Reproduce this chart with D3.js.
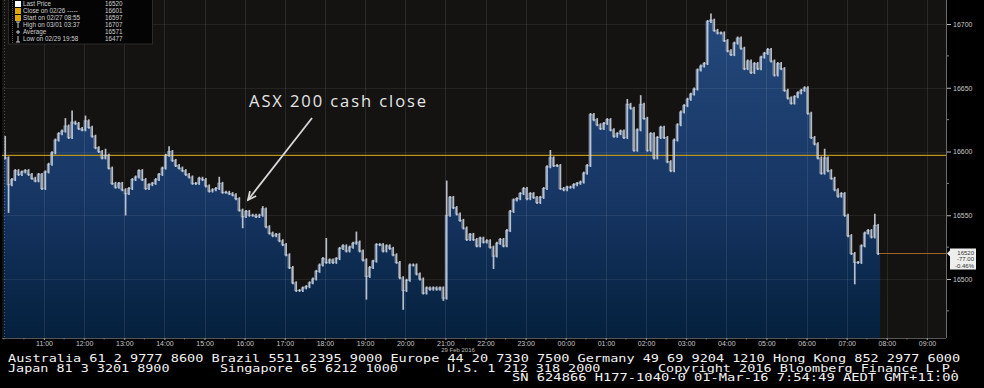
<!DOCTYPE html>
<html>
<head>
<meta charset="utf-8">
<script src="https://cdnjs.cloudflare.com/ajax/libs/d3/7.8.5/d3.min.js"></script>
<style>
  html, body { margin: 0; padding: 0; background: #000; }
  svg { display: block; }
</style>
</head>
<body>
<svg id="chart" width="984" height="388"></svg>
<script>
// 5 minute closes, 29 Feb 2016 10:00 -> 01 Mar 2016 07:45
var startTime = '2016-02-29T10:00'
  , barMinutes = 5

var closes = [
  16595, 16574, 16578, 16585, 16582, 16584, 16585, 16582, 16579, 16577,
  16582, 16571, 16584, 16590, 16599, 16609, 16614, 16616, 16620, 16611,
  16623, 16622, 16618, 16617, 16624, 16619, 16612, 16603, 16600, 16595,
  16597, 16587, 16575, 16572, 16575, 16570, 16567, 16571, 16578, 16580,
  16585, 16578, 16571, 16574, 16575, 16578, 16582, 16587, 16597, 16600,
  16593, 16589, 16587, 16585, 16582, 16580, 16575, 16575, 16579, 16578,
  16573, 16569, 16570, 16571, 16575, 16568, 16568, 16567, 16566, 16563,
  16554, 16549, 16553, 16550, 16550, 16549, 16550, 16555, 16541, 16536,
  16534, 16535, 16530, 16527, 16519, 16509, 16497, 16491, 16491, 16493,
  16494, 16497, 16500, 16506, 16511, 16516, 16513, 16515, 16513, 16516,
  16524, 16526, 16522, 16525, 16528, 16529, 16522, 16515, 16502, 16509,
  16514, 16527, 16527, 16522, 16526, 16524, 16519, 16513, 16501, 16491,
  16499, 16511, 16511, 16504, 16500, 16489, 16493, 16492, 16493, 16492,
  16493, 16485, 16550, 16564, 16556, 16551, 16546, 16540, 16531, 16535,
  16531, 16526, 16532, 16529, 16530, 16525, 16518, 16528, 16531, 16526,
  16538, 16553, 16562, 16563, 16567, 16571, 16563, 16567, 16564, 16560,
  16564, 16571, 16588, 16595, 16589, 16589, 16571, 16570, 16572, 16572,
  16574, 16575, 16576, 16583, 16589, 16629, 16625, 16621, 16618, 16622,
  16625, 16617, 16612, 16614, 16616, 16611, 16637, 16634, 16601, 16617,
  16637, 16626, 16601, 16614, 16595, 16611, 16619, 16611, 16592, 16585,
  16609, 16621, 16631, 16636, 16641, 16645, 16649, 16664, 16667, 16669,
  16702, 16703, 16695, 16693, 16693, 16687, 16679, 16676, 16685, 16689,
  16681, 16665, 16671, 16662, 16669, 16665, 16674, 16677, 16680, 16671,
  16660, 16669, 16665, 16648, 16642, 16638, 16643, 16646, 16648, 16650,
  16630, 16611, 16606, 16595, 16583, 16595, 16585, 16579, 16570, 16565,
  16567, 16550, 16534, 16520, 16513, 16513, 16526, 16536, 16538, 16533,
  16542, 16520
]

var highs = [
  ['2016-02-29T10:00', 16611], ['2016-02-29T11:30', 16625], ['2016-02-29T11:40', 16631],
  ['2016-02-29T12:00', 16627], ['2016-02-29T12:30', 16601], ['2016-02-29T14:05', 16603],
  ['2016-02-29T15:20', 16579], ['2016-02-29T16:25', 16556], ['2016-02-29T18:00', 16531],
  ['2016-02-29T18:45', 16536], ['2016-02-29T21:00', 16576], ['2016-02-29T23:35', 16600],
  ['2016-03-01T01:30', 16640], ['2016-03-01T01:50', 16643], ['2016-03-01T03:35', 16707],
  ['2016-03-01T06:25', 16601], ['2016-03-01T07:40', 16550]
]
var lows = [
  ['2016-02-29T10:05', 16553], ['2016-02-29T13:00', 16551], ['2016-02-29T15:55', 16541],
  ['2016-02-29T19:00', 16485], ['2016-02-29T19:55', 16477], ['2016-02-29T20:55', 16484],
  ['2016-02-29T22:10', 16509], ['2016-03-01T07:10', 16497]
]

var priceTicks = [16500, 16550, 16600, 16650, 16700]
  , minorPriceTicks = [16475, 16525, 16575, 16625, 16675]
  , startLevel = 16597
  , lastPrice = 16520
  , lastBox = ['16520', '-77.00', '-0.46%']
  , dateLabel = '29 Feb 2016'

var legendLabels = ['Last Price', 'Close on 02/26 -----', 'Start on 02/27 08:55',
      'High on 03/01 03:37', 'Average', 'Low on 02/29 19:58']
  , legendValues = ['16520', '16601', '16597', '16707', '16571', '16477']

var note = {text: 'ASX 200 cash close', time: '2016-02-29T16:05', value: 16562}

var footer1 = 'Australia 61 2 9777 8600 Brazil 5511 2395 9000 Europe 44 20 7330 7500 Germany 49 69 9204 1210 Hong Kong 852 2977 6000'
  , footer2 = ['Japan 81 3 3201 8900', 'Singapore 65 6212 1000', 'U.S. 1 212 318 2000', 'Copyright 2016 Bloomberg Finance L.P.']
  , footer3 = 'SN 624866 H177-1040-0 01-Mar-16  7:54:49 AEDT GMT+11:00'

var svg = d3.select('#chart')
  , plot = {left: 2, right: 946, top: 0, bottom: 338}
  , parse = d3.timeParse('%Y-%m-%dT%H:%M')
  , t0 = parse(startTime)
  , tickFont = 'Liberation Sans, Arial, sans-serif'

var bars = closes.map(function(v, i) {
  return {t: d3.timeMinute.offset(t0, i * barMinutes), close: v, prev: i ? closes[i - 1] : v}
})
highs.forEach(function(h) {
  var b = _find(parse(h[0])); if (b) b.high = h[1]
})
lows.forEach(function(l) {
  var b = _find(parse(l[0])); if (b) b.low = l[1]
})
function _find(t) {
  return bars.find(function(b) { return +b.t === +t })
}

var x = d3.scaleTime()
  .domain([new Date(2016, 1, 29, 9, 57, 12), new Date(2016, 2, 1, 9, 28, 24)])
  .range([plot.left, plot.right])
var y = d3.scaleLinear().domain([16500, 16700]).range([279, 24])

// plot background
svg.append('rect')
  .attr('x', plot.left).attr('y', plot.top)
  .attr('width', plot.right - plot.left).attr('height', plot.bottom - plot.top)
  .attr('fill', '#141312')

var defs = svg.append('defs')
var grad = defs.append('linearGradient').attr('id', 'blue')
  .attr('gradientUnits', 'userSpaceOnUse')
  .attr('x1', 0).attr('x2', 0).attr('y1', y(16700)).attr('y2', plot.bottom)
grad.append('stop').attr('offset', 0).attr('stop-color', '#23487a')
grad.append('stop').attr('offset', 0.55).attr('stop-color', '#173664')
grad.append('stop').attr('offset', 1).attr('stop-color', '#04203d')

var last = bars[bars.length - 1]
  , areaPts = bars.concat([{t: d3.timeMinute.offset(last.t, barMinutes), close: last.close}])

svg.append('path').datum(areaPts)
  .attr('fill', 'url(#blue)')
  .attr('d', d3.area()
    .curve(d3.curveStepAfter)
    .x(function(d) { return x(d.t) })
    .y0(plot.bottom)
    .y1(function(d) { return y(d.close) }))

// grid
var hours = d3.timeHour.range(new Date(2016, 1, 29, 10), new Date(2016, 2, 1, 9, 30))
svg.append('g').selectAll('line').data(hours)
  .enter().append('line')
  .attr('x1', function(d) { return Math.round(x(d)) + 0.5 })
  .attr('x2', function(d) { return Math.round(x(d)) + 0.5 })
  .attr('y1', plot.top).attr('y2', plot.bottom)
  .attr('stroke', '#ffffff').attr('stroke-opacity', function(d, i) { return i ? 0.09 : 0.25 })
  .attr('stroke-dasharray', function(d, i) { return i ? null : '1,2' })
svg.append('g').selectAll('line').data(priceTicks)
  .enter().append('line')
  .attr('x1', plot.left).attr('x2', plot.right)
  .attr('y1', function(d) { return Math.round(y(d)) + 0.5 })
  .attr('y2', function(d) { return Math.round(y(d)) + 0.5 })
  .attr('stroke', '#ffffff').attr('stroke-opacity', 0.07)

// start level + last price lines
svg.append('line')
  .attr('x1', plot.left).attr('x2', plot.right)
  .attr('y1', y(startLevel)).attr('y2', y(startLevel))
  .attr('stroke', '#b8931c').attr('stroke-width', 1.2)
svg.append('line')
  .attr('x1', x(areaPts[areaPts.length - 1].t)).attr('x2', plot.right)
  .attr('y1', y(lastPrice)).attr('y2', y(lastPrice))
  .attr('stroke', '#a0622a').attr('stroke-width', 1)

// price bars
svg.append('path').datum(areaPts)
  .attr('fill', 'none').attr('stroke', '#b8c4d4').attr('stroke-opacity', 0.6).attr('stroke-width', 1.2)
  .attr('d', d3.line().curve(d3.curveStepAfter)
    .x(function(d) { return x(d.t) })
    .y(function(d) { return y(d.close) }))
svg.append('g').selectAll('line').data(bars)
  .enter().append('line')
  .attr('x1', function(d) { return x(d3.timeMinute.offset(d.t, barMinutes / 2)) })
  .attr('x2', function(d) { return x(d3.timeMinute.offset(d.t, barMinutes / 2)) })
  .attr('y1', function(d) { return y(Math.max(d.close, d.prev, d.high || 0)) - 1.5 })
  .attr('y2', function(d) { return y(Math.min(d.close, d.prev, d.low || 1e9)) + 1.5 })
  .attr('stroke', '#d4dbe6').attr('stroke-opacity', 0.85).attr('stroke-width', 1.7)

// right axis
svg.append('line')
  .attr('x1', plot.right + 0.5).attr('x2', plot.right + 0.5)
  .attr('y1', plot.top).attr('y2', plot.bottom)
  .attr('stroke', '#6a6a6a')
var yAxis = svg.append('g')
  .attr('transform', 'translate(' + (plot.right + 1) + ',0)')
  .call(d3.axisRight(y).tickValues(priceTicks).tickSize(4).tickPadding(2).tickFormat(d3.format('d')))
yAxis.select('.domain').remove()
yAxis.selectAll('line').attr('stroke', '#bbbbbb')
yAxis.selectAll('text').attr('fill', '#c8c8c8').attr('font-size', 7).attr('font-family', tickFont)
svg.append('g').selectAll('line').data(minorPriceTicks)
  .enter().append('line')
  .attr('x1', plot.right + 1).attr('x2', plot.right + 3)
  .attr('y1', function(d) { return y(d) }).attr('y2', function(d) { return y(d) })
  .attr('stroke', '#888')

// last price box
var by = y(lastPrice)
svg.append('path')
  .attr('d', 'M' + (plot.right + 1) + ',' + by + 'L' + (plot.right + 4) + ',' + (by - 3) + 'L' + (plot.right + 4) + ',' + (by + 3) + 'Z')
  .attr('fill', '#eeeeee')
svg.append('rect')
  .attr('x', plot.right + 4).attr('y', by - 5)
  .attr('width', 26).attr('height', 21)
  .attr('fill', '#eeeeee')
svg.append('g').selectAll('text').data(lastBox)
  .enter().append('text')
  .attr('x', plot.right + 28).attr('y', function(d, i) { return by + 1 + i * 6.7 })
  .attr('text-anchor', 'end')
  .attr('font-size', 6).attr('font-family', tickFont).attr('fill', '#333')
  .text(function(d) { return d })

// bottom axis
svg.append('line')
  .attr('x1', plot.left).attr('x2', plot.right)
  .attr('y1', plot.bottom + 0.5).attr('y2', plot.bottom + 0.5)
  .attr('stroke', '#555')
var xAxis = svg.append('g')
  .attr('transform', 'translate(0,' + plot.bottom + ')')
  .call(d3.axisBottom(x).tickValues(hours.slice(1)).tickSize(2).tickPadding(1).tickFormat(d3.timeFormat('%H:%M')))
xAxis.select('.domain').remove()
xAxis.selectAll('line').attr('stroke', '#999')
xAxis.selectAll('text').attr('fill', '#c8c8c8').attr('font-size', 7).attr('font-family', tickFont)
svg.append('g').selectAll('line').data(d3.timeMinute.every(30).range(new Date(2016, 1, 29, 10), new Date(2016, 2, 1, 9, 30)))
  .enter().append('line')
  .attr('x1', function(d) { return x(d) }).attr('x2', function(d) { return x(d) })
  .attr('y1', plot.bottom).attr('y2', plot.bottom + 1.5)
  .attr('stroke', '#777')
svg.append('text')
  .attr('x', 458).attr('y', 352).attr('text-anchor', 'middle')
  .attr('font-size', 6).attr('font-family', tickFont).attr('fill', '#bbb')
  .text(dateLabel)

// legend
var lg = svg.append('g')
lg.append('rect').attr('x', 8.5).attr('y', -1).attr('width', 144).attr('height', 45)
  .attr('fill', '#040404').attr('stroke', '#2a2a2a')
lg.append('line').attr('x1', 12.5).attr('x2', 12.5).attr('y1', 0).attr('y2', 44)
  .attr('stroke', '#555').attr('stroke-dasharray', '1,1')
var rowY = function(i) { return 4 + i * 7 }
lg.selectAll('text.lab').data(legendLabels)
  .enter().append('text').attr('class', 'lab')
  .attr('x', 23).attr('y', function(d, i) { return rowY(i) + 2.2 })
  .attr('font-size', 6.3).attr('font-family', tickFont).attr('fill', '#d0d0d0')
  .text(function(d) { return d })
lg.selectAll('text.val').data(legendValues)
  .enter().append('text').attr('class', 'val')
  .attr('x', 105).attr('y', function(d, i) { return rowY(i) + 2.2 })
  .attr('font-size', 6.3).attr('font-family', tickFont).attr('fill', '#d0d0d0')
  .text(function(d) { return d })
var iconColors = ['#ffffff', '#e0a400', '#e0a400']
iconColors.forEach(function(c, i) {
  lg.append('rect').attr('x', 15).attr('y', rowY(i) - 3).attr('width', 6).attr('height', 6).attr('fill', c)
})
lg.append('path').attr('d', 'M16,' + (rowY(3) - 3) + 'H20M18,' + (rowY(3) - 3) + 'V' + (rowY(3) + 3))
  .attr('stroke', '#ccc').attr('fill', 'none')
lg.append('path').attr('d', 'M16,' + rowY(4) + 'H20M18,' + (rowY(4) - 2) + 'V' + (rowY(4) + 2))
  .attr('stroke', '#ccc').attr('fill', 'none')
lg.append('path').attr('d', 'M16,' + (rowY(5) + 3) + 'H20M18,' + (rowY(5) - 3) + 'V' + (rowY(5) + 3))
  .attr('stroke', '#ccc').attr('fill', 'none')

// annotation
var tipX = x(parse(note.time)), tipY = y(note.value)
  , tailX = tipX + 64, tailY = tipY - 82
  , ang = Math.atan2(tipY - tailY, tipX - tailX)
svg.append('line')
  .attr('x1', tailX).attr('y1', tailY).attr('x2', tipX).attr('y2', tipY)
  .attr('stroke', '#d8d8d8').attr('stroke-width', 1.8)
svg.append('path')
  .attr('d', 'M' + (tipX - 9 * Math.cos(ang - 0.45)) + ',' + (tipY - 9 * Math.sin(ang - 0.45)) +
    'L' + tipX + ',' + tipY +
    'L' + (tipX - 9 * Math.cos(ang + 0.45)) + ',' + (tipY - 9 * Math.sin(ang + 0.45)))
  .attr('stroke', '#d8d8d8').attr('stroke-width', 1.8).attr('fill', 'none')
svg.append('text')
  .attr('x', tipX + 1).attr('y', tipY - 93)
  .attr('font-size', 16.5).attr('font-family', 'Open Sans, sans-serif').attr('fill', '#e6e6e6')
  .attr('textLength', 177).attr('lengthAdjust', 'spacing')
  .text(note.text)

// footer
var mono = 'DejaVu Sans Mono, monospace'
  , charW = 8.15
function footerText(txt, x0, yb) {
  svg.append('text')
    .attr('x', x0).attr('y', yb)
    .attr('font-size', 10).attr('font-family', mono).attr('fill', '#f2f2f2')
    .attr('textLength', txt.length * charW - 1.5).attr('lengthAdjust', 'spacingAndGlyphs')
    .text(txt)
}
footerText(footer1, 8, 362)
var f2x = [8, 220, 447, 658]
footer2.forEach(function(t, i) { footerText(t, f2x[i], 371.5) })
footerText(footer3, 512, 381)
</script>
</body>
</html>
